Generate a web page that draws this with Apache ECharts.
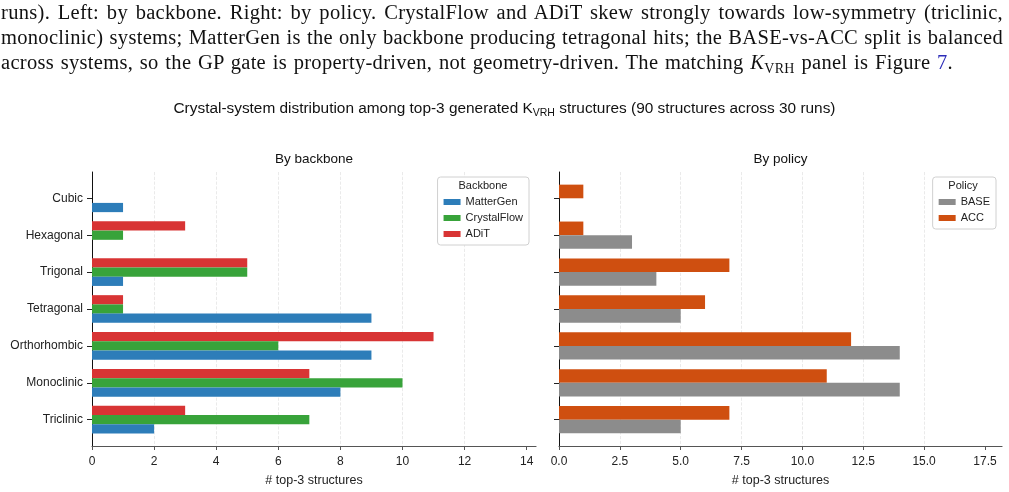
<!DOCTYPE html>
<html lang="en">

<head>
    <meta charset="UTF-8" />
    <meta name="viewport" content="width=device-width, initial-scale=1.0" />
    <title>Crystal-system distribution</title>
    <script src="https://cdn.jsdelivr.net/npm/echarts@6.0.0/dist/echarts.min.js"></script>
    <style>
        body { margin: 0; background: #fff; }
        #main { position: absolute; left: 0; top: 0; width: 1009px; height: 492px; }
        #caption { position: absolute; left: 1px; top: 0; font-family: "Liberation Serif", serif; font-size: 20.5px; line-height: 25px; letter-spacing: 0.3px; color: #111; }
        #caption div { text-align: justify; text-align-last: justify; white-space: nowrap; }
        #caption sub { font-size: 14px; line-height: 0; vertical-align: -4px; font-style: normal; }
        #caption a { color: #2b2bb8; text-decoration: none; }
    </style>
</head>

<body>
    <div id="main"></div>
    <div id="caption">
        <div style="width: 1002px;">runs). Left: by backbone. Right: by policy. CrystalFlow and ADiT skew strongly towards low-symmetry (triclinic,</div>
        <div style="width: 1002px;">monoclinic) systems; MatterGen is the only backbone producing tetragonal hits; the BASE-vs-ACC split is balanced</div>
        <div style="width: 952px;">across systems, so the GP gate is property-driven, not geometry-driven. The matching <i>K</i><sub>VRH</sub> panel is Figure <a>7</a>.</div>
    </div>

    <script>
        // crystal systems, top to bottom
        const systems = ['Cubic', 'Hexagonal', 'Trigonal', 'Tetragonal', 'Orthorhombic', 'Monoclinic', 'Triclinic'];

        // left panel: by backbone
        const matterGen = [1, 0, 1, 9, 9, 8, 2];
        const crystalFlow = [0, 1, 5, 1, 6, 10, 7];
        const adit = [0, 3, 5, 1, 11, 7, 3];

        // right panel: by policy
        const base = [0, 3, 4, 5, 14, 14, 5];
        const acc = [1, 1, 7, 6, 12, 11, 7];

        const backboneTicks = [0, 2, 4, 6, 8, 10, 12, 14];
        const policyTicks = [0, 2.5, 5, 7.5, 10, 12.5, 15, 17.5];

        const myChart = echarts.init(document.getElementById('main'));

        const plotTop = 172, plotH = 274;
        const unit = plotH / 7.425;          // px per category step
        const dataTop = plotTop + 0.2125 * unit;
        const dataH = 7 * unit;

        const leftX = 92, leftW = 444;
        const rightX = 559, rightW = 443;

        const font = 'Liberation Sans';

        function frameX(gridIndex, max, interval, ticks) {
            return {
                type: 'value', gridIndex: gridIndex, min: 0, max: max, interval: interval,
                axisLine: { show: true, lineStyle: { color: '#555', width: 1.2 } },
                axisTick: { show: true, customValues: ticks, length: 4, lineStyle: { color: '#555' } },
                axisLabel: {
                    customValues: ticks, color: '#222', fontSize: 12, margin: 10,
                    formatter: v => interval === 2.5 ? v.toFixed(1) : String(v)
                },
                splitLine: { show: true, showMinLine: false, showMaxLine: false, lineStyle: { color: '#e4e4e4', type: 'dashed', width: 0.8 } },
                name: '# top-3 structures', nameLocation: 'middle', nameGap: 28,
                nameTextStyle: { color: '#222', fontSize: 12.5 }
            };
        }

        function dataX(gridIndex, max) {
            return { type: 'value', gridIndex: gridIndex, min: 0, max: max, show: false, splitLine: { show: false } };
        }

        function frameY(gridIndex) {
            return {
                type: 'value', gridIndex: gridIndex, min: 0, max: 1,
                axisLine: { show: true, lineStyle: { color: '#111', width: 1 } },
                axisTick: { show: false }, axisLabel: { show: false }, splitLine: { show: false }
            };
        }

        function dataY(gridIndex, showLabels) {
            return {
                type: 'category', gridIndex: gridIndex, data: systems, inverse: true,
                axisLine: { show: false },
                axisTick: { show: true, alignWithLabel: true, length: 5, lineStyle: { color: '#222' } },
                axisLabel: { show: showLabels, color: '#222', fontSize: 12, margin: 9 },
                splitLine: { show: false }
            };
        }

        function bar(name, data, color, axisIndex, width) {
            return {
                name: name, type: 'bar', data: data,
                xAxisIndex: axisIndex, yAxisIndex: axisIndex,
                barWidth: width, barGap: '0%',
                itemStyle: { color: color },
                emphasis: { disabled: true }
            };
        }

        function legendBox(names, right, top) {
            return {
                data: names, orient: 'vertical', right: right, top: top,
                padding: [18, 6, 4, 6], itemGap: 2, itemWidth: 17, itemHeight: 6, icon: 'rect',
                backgroundColor: '#fff', borderColor: '#d0d0d0', borderWidth: 1, borderRadius: 3,
                textStyle: { fontSize: 11, color: '#222', lineHeight: 14, fontFamily: font },
                selectedMode: false
            };
        }

        const options = {
            animation: false,
            textStyle: { fontFamily: font },
            title: {
                text: 'Crystal-system distribution among top-3 generated K{sub|VRH} structures (90 structures across 30 runs)',
                left: 'center', top: 94,
                textStyle: {
                    fontSize: 15.4, fontWeight: 'normal', color: '#111', fontFamily: font, lineHeight: 20,
                    rich: { sub: { fontSize: 10.5, verticalAlign: 'bottom', fontFamily: font, color: '#111' } }
                }
            },
            grid: [
                { left: leftX, top: plotTop, width: leftW, height: plotH },
                { left: leftX, top: dataTop, width: leftW, height: dataH },
                { left: rightX, top: plotTop, width: rightW, height: plotH },
                { left: rightX, top: dataTop, width: rightW, height: dataH }
            ],
            xAxis: [
                frameX(0, 14.3, 2, backboneTicks),
                dataX(1, 14.3),
                frameX(2, 18.2, 2.5, policyTicks),
                dataX(3, 18.2)
            ],
            yAxis: [frameY(0), dataY(1, true), frameY(2), dataY(3, false)],
            legend: [
                legendBox(['MatterGen', 'CrystalFlow', 'ADiT'], 480, 177),
                legendBox(['BASE', 'ACC'], 13, 177)
            ],
            graphic: [
                { type: 'text', x: leftX + leftW / 2, y: 159, z: 100, style: { text: 'By backbone', align: 'center', verticalAlign: 'middle', fontSize: 13.5, fill: '#111', fontFamily: font } },
                { type: 'text', x: rightX + rightW / 2, y: 159, z: 100, style: { text: 'By policy', align: 'center', verticalAlign: 'middle', fontSize: 13.5, fill: '#111', fontFamily: font } },
                { type: 'text', x: 483, y: 186, z: 100, style: { text: 'Backbone', align: 'center', verticalAlign: 'middle', fontSize: 11, fill: '#222', fontFamily: font } },
                { type: 'text', x: 963, y: 186, z: 100, style: { text: 'Policy', align: 'center', verticalAlign: 'middle', fontSize: 11, fill: '#222', fontFamily: font } }
            ],
            series: [
                bar('ADiT', adit, '#d83434', 1, unit * 0.25),
                bar('CrystalFlow', crystalFlow, '#38a33a', 1, unit * 0.25),
                bar('MatterGen', matterGen, '#2d7db9', 1, unit * 0.25),
                bar('ACC', acc, '#cf4f10', 3, unit * 0.37),
                bar('BASE', base, '#8c8c8c', 3, unit * 0.37)
            ]
        };

        myChart.setOption(options);
    </script>
</body>

</html>
